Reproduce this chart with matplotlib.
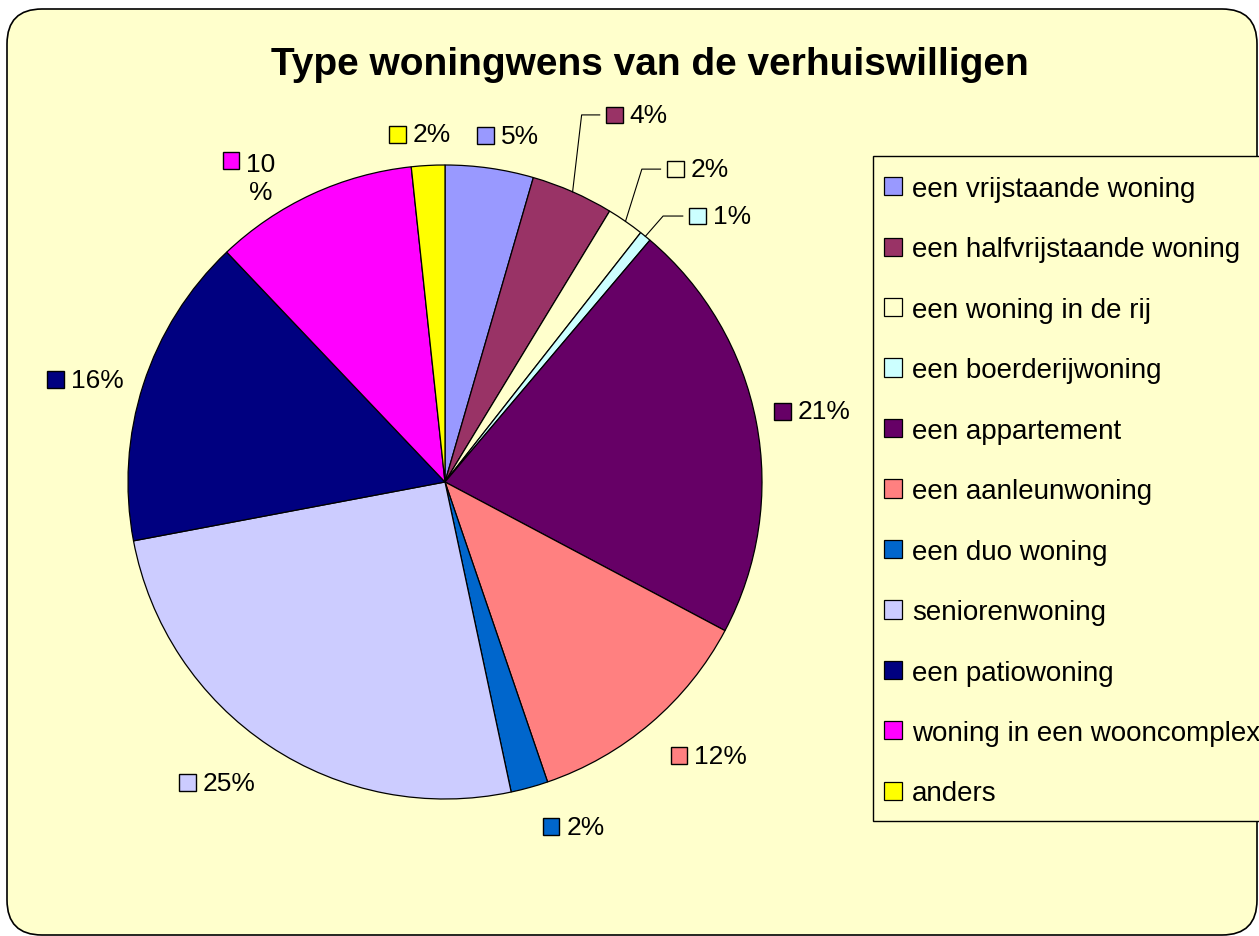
import matplotlib

matplotlib.use('Agg')
import matplotlib.pyplot as plt
import numpy as np
from matplotlib.patches import FancyBboxPatch, Rectangle
from matplotlib.offsetbox import AnnotationBbox, DrawingArea, HPacker, TextArea

plt.rcParams['font.family'] = ['Liberation Sans', 'DejaVu Sans']

# data (share in %)
categories = ["een vrijstaande woning", "een halfvrijstaande woning", "een woning in de rij",
              "een boerderijwoning", "een appartement", "een aanleunwoning", "een duo woning",
              "seniorenwoning", "een patiowoning", "woning in een wooncomplex", "anders"]
values = [4.5, 4.2, 1.9, 0.6, 21.6, 12.0, 1.9, 25.4, 15.9, 10.4, 1.7]
value_labels = ["5%", "4%", "2%", "1%", "21%", "12%", "2%", "25%", "16%", "10\n%", "2%"]
colors = ['#9999FF', '#993366', '#FFFFCC', '#CCFFFF', '#660066', '#FF8080',
          '#0066CC', '#CCCCFF', '#000080', '#FF00FF', '#FFFF00']

BG = '#FFFFCC'

fig = plt.figure(figsize=(12.59, 9.37), dpi=100)

# rounded chart area
bg = FancyBboxPatch((0.07, 0.01), 12.50, 9.26, boxstyle="round,pad=0,rounding_size=0.35",
                    transform=fig.dpi_scale_trans, facecolor=BG, edgecolor='black',
                    linewidth=1.2, zorder=-5)
fig.patches.append(bg)

fig.text(650 / 1259, 1 - 65 / 937, "Type woningwens van de verhuiswilligen",
         ha='center', va='center', fontsize=28, fontweight='bold')

# pie axes: centre at (445, 483) px, radius 317 px
R = 317
lim = 1.35
w = 2 * lim * R
ax = fig.add_axes([(445 - w / 2) / 1259, (454 - w / 2) / 937, w / 1259, w / 937])
wedges, _ = ax.pie(values, colors=colors, startangle=90, counterclock=False,
                   wedgeprops=dict(edgecolor='black', linewidth=0.9))
ax.set_xlim(-lim, lim)
ax.set_ylim(-lim, lim)
ax.set_aspect('equal')
ax.axis('off')

# label distance from centre (None = label with leader line), nudge in degrees clockwise
label_dist = [1.11, None, None, None, 1.18, 1.2, 1.16, 1.19, 1.18, 1.14, 1.1]
label_nudge = [2.2, 0, 0, 0, 0, -3.5, -5, 3.5, -2, -8, -1]
# leader labels: left edge of label, elbow x
leader_pos = {1: (0.508, 1.158, 0.431), 2: (0.700, 0.987, 0.621), 3: (0.770, 0.839, 0.688)}


def label_box(color, text, align):
    da = DrawingArea(12, 12, 0, 0)
    da.add_artist(Rectangle((0, 0), 12, 12, facecolor=color, edgecolor='black', linewidth=1.0))
    ta = TextArea(text, textprops=dict(fontsize=19, multialignment='center'))
    return HPacker(children=[da, ta], align=align, pad=0, sep=5)


for i, wd in enumerate(wedges):
    mid = np.deg2rad((wd.theta1 + wd.theta2) / 2 - label_nudge[i])
    box = label_box(colors[i], value_labels[i], 'top' if '\n' in value_labels[i] else 'center')
    if label_dist[i] is not None:
        pos = (label_dist[i] * np.cos(mid), label_dist[i] * np.sin(mid))
        ab = AnnotationBbox(box, pos, frameon=False, box_alignment=(0.5, 0.5),
                            annotation_clip=False)
    else:
        lx, ly, ex = leader_pos[i]
        ax.plot([np.cos(mid), ex, lx - 0.02], [np.sin(mid), ly, ly], color='black',
                linewidth=0.8, clip_on=False)
        ab = AnnotationBbox(box, (lx, ly), frameon=False, box_alignment=(0, 0.5),
                            annotation_clip=False)
    ax.add_artist(ab)

# legend frame runs off the right edge, like the reference
frame = Rectangle((873 / 1259, 1 - 822 / 937), 500 / 1259, 665 / 937,
                  transform=fig.transFigure, facecolor=BG, edgecolor='black',
                  linewidth=1.0, zorder=-4)
fig.patches.append(frame)

leg = ax.legend(wedges, categories, loc='upper left',
                bbox_to_anchor=(884 / 1259, 1 - 177 / 937), bbox_transform=fig.transFigure,
                fontsize=20, frameon=False, borderaxespad=0, borderpad=0, handlelength=0.64,
                handleheight=0.64, handletextpad=0.36, labelspacing=1.24)

fig.savefig('out.png', dpi=100, facecolor='white')
